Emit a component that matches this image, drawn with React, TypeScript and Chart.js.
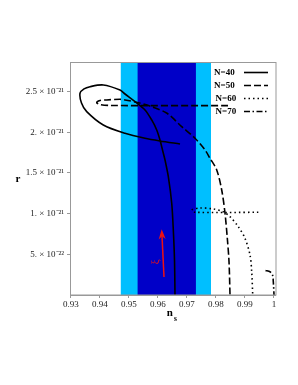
import React, { useEffect, useRef } from 'react';
import { Chart, registerables } from 'chart.js';

Chart.register(...registerables);

// ---------- data ----------
const xTickValues = [0.93, 0.94, 0.95, 0.96, 0.97, 0.98, 0.99, 1.0];
const xTickLabels = ['0.93', '0.94', '0.95', '0.96', '0.97', '0.98', '0.99', '1'];
// r values are stored in units of 1e-21
const yTickValues = [0.5, 1, 1.5, 2, 2.5];
const yTickLabels = ['5. × 10⁻²²', '1. × 10⁻²¹', '1.5 × 10⁻²¹', '2. × 10⁻²¹', '2.5 × 10⁻²¹'];
const xRange = [0.9297, 1.0006];
const yRange = [0, 2.862];

const lightBand = [0.9472, 0.9783];
const darkBand = [0.953, 0.9731];

const seriesNames = ['N=40', 'N=50', 'N=60', 'N=70'];

const n40Ns = [0.96762, 0.96072, 0.95555, 0.94866, 0.94118, 0.93546, 0.93366, 0.93315, 0.93453, 0.93659, 0.94118, 0.94694, 0.94866, 0.95211, 0.95555, 0.95786, 0.95959, 0.96072, 0.96159, 0.96245, 0.96359, 0.96476, 0.96531, 0.96572, 0.96589];
const n40R = [1.855, 1.892, 1.925, 1.986, 2.088, 2.252, 2.359, 2.478, 2.531, 2.559, 2.58, 2.518, 2.469, 2.375, 2.273, 2.15, 2.027, 1.904, 1.781, 1.658, 1.453, 1.127, 0.799, 0.43, 0];

const n50Ns = [0.98416, 0.94349, 0.94004, 0.9389, 0.94004, 0.94235, 0.94694, 0.94866, 0.95324, 0.95786, 0.96314, 0.9682, 0.97279, 0.97624, 0.97796, 0.98027, 0.98199, 0.98313, 0.98392, 0.98451, 0.98485];
const n50R = [2.326, 2.328, 2.34, 2.362, 2.389, 2.396, 2.404, 2.396, 2.362, 2.313, 2.232, 2.068, 1.925, 1.781, 1.679, 1.536, 1.29, 1.004, 0.697, 0.409, 0];

const n60Ns = [0.99461, 0.97279, 0.97165, 0.97451, 0.9791, 0.98254, 0.98485, 0.98771, 0.99002, 0.99175, 0.99233, 0.99268];
const n60R = [1.016, 1.016, 1.044, 1.069, 1.057, 1.023, 0.962, 0.839, 0.697, 0.491, 0.286, 0];

const n70Ns = [0.99709, 0.99864, 0.9995, 0.99978, 1.00002];
const n70R = [0.301, 0.285, 0.246, 0.16, 0];

const arrowFrom = [0.9621, 0.221];
const arrowTo = [0.9613, 0.807];
const xiLabelAt = [0.95935, 0.405];

// ---------- styles ----------
const SERIF = '"Liberation Serif", "Times New Roman", serif';
const dashes = [[], [7, 3], [1.5, 3], [6, 2.5, 1.5, 2.5]];

const toPoints = (xs: number[], ys: number[]) => xs.map((x, i) => ({ x, y: ys[i] }));

const seriesData = [
  toPoints(n40Ns, n40R),
  toPoints(n50Ns, n50R),
  toPoints(n60Ns, n60R),
  toPoints(n70Ns, n70R),
];

const decorPlugin = {
  id: 'decor',
  beforeDatasetsDraw(chart: any) {
    const { ctx, chartArea: a, scales } = chart;
    const xs = scales.x;
    ctx.save();
    ctx.fillStyle = '#00BFFF';
    const l0 = xs.getPixelForValue(lightBand[0]);
    const l1 = xs.getPixelForValue(lightBand[1]);
    ctx.fillRect(l0, a.top, l1 - l0, a.bottom - a.top);
    ctx.fillStyle = '#0000C8';
    const d0 = xs.getPixelForValue(darkBand[0]);
    const d1 = xs.getPixelForValue(darkBand[1]);
    ctx.fillRect(d0, a.top, d1 - d0, a.bottom - a.top);
    ctx.restore();
  },
  afterDatasetsDraw(chart: any) {
    const { ctx, chartArea: a, scales } = chart;
    const xs = scales.x;
    const ys = scales.y;
    ctx.save();
    // arrow
    const x0 = xs.getPixelForValue(arrowFrom[0]);
    const y0 = ys.getPixelForValue(arrowFrom[1]);
    const x1 = xs.getPixelForValue(arrowTo[0]);
    const y1 = ys.getPixelForValue(arrowTo[1]);
    const ang = Math.atan2(y1 - y0, x1 - x0);
    ctx.strokeStyle = '#EE1111';
    ctx.fillStyle = '#EE1111';
    ctx.lineWidth = 1.5;
    ctx.beginPath();
    ctx.moveTo(x0, y0);
    ctx.lineTo(x1 - Math.cos(ang) * 4, y1 - Math.sin(ang) * 4);
    ctx.stroke();
    const hl = 10;
    const hw = 3.5;
    const bx = x1 - Math.cos(ang) * hl;
    const by = y1 - Math.sin(ang) * hl;
    ctx.beginPath();
    ctx.moveTo(x1, y1);
    ctx.lineTo(bx + Math.sin(ang) * hw, by - Math.cos(ang) * hw);
    ctx.lineTo(bx + Math.cos(ang) * 3, by + Math.sin(ang) * 3);
    ctx.lineTo(bx - Math.sin(ang) * hw, by + Math.cos(ang) * hw);
    ctx.closePath();
    ctx.fill();
    // xi label
    const lx = xs.getPixelForValue(xiLabelAt[0]);
    const ly = ys.getPixelForValue(xiLabelAt[1]);
    ctx.translate(lx, ly);
    ctx.rotate(ang);
    ctx.font = `11px ${SERIF}`;
    ctx.textAlign = 'center';
    ctx.textBaseline = 'middle';
    ctx.fillText('ξ', 0, 0);
    ctx.restore();

    // frame
    ctx.save();
    ctx.strokeStyle = '#999';
    ctx.lineWidth = 1;
    ctx.strokeRect(Math.round(a.left) + 0.5, Math.round(a.top) + 0.5, Math.round(a.right - a.left) - 0.5, Math.round(a.bottom - a.top) - 0.5);
    ctx.restore();

    // legend
    ctx.save();
    const rows = [72.5, 85.5, 98.5, 111.5];
    ctx.font = `bold 9px ${SERIF}`;
    ctx.textBaseline = 'middle';
    ctx.textAlign = 'left';
    chart.data.datasets.forEach((ds: any, i: number) => {
      const y = rows[i];
      ctx.fillStyle = '#000';
      ctx.fillText(ds.label, i < 2 ? 214 : 215.5, y + 0.5);
      ctx.strokeStyle = '#000';
      ctx.lineWidth = ds.borderWidth;
      ctx.setLineDash(ds.borderDash || []);
      ctx.beginPath();
      ctx.moveTo(244, y);
      ctx.lineTo(268, y);
      ctx.stroke();
    });
    ctx.setLineDash([]);
    ctx.restore();

    // axis titles
    ctx.save();
    ctx.fillStyle = '#000';
    ctx.textAlign = 'center';
    ctx.textBaseline = 'middle';
    ctx.font = `bold 11px ${SERIF}`;
    ctx.fillText('r', 18, 179);
    const cx = (a.left + a.right) / 2;
    ctx.fillText('n', cx - 3, 313);
    ctx.font = `bold 7.5px ${SERIF}`;
    ctx.fillText('s', cx + 2.5, 319);
    ctx.restore();
  },
};

export default function App() {
  const ref = useRef<HTMLCanvasElement | null>(null);

  useEffect(() => {
    if (!ref.current) return;
    const chart = new Chart(ref.current, {
      type: 'scatter',
      data: {
        datasets: seriesData.map((pts, i) => ({
          label: seriesNames[i],
          data: pts,
          showLine: true,
          borderColor: '#000',
          backgroundColor: '#000',
          borderWidth: 1.6,
          borderDash: dashes[i],
          pointRadius: 0,
          tension: 0.3,
          fill: false,
        })),
      },
      options: {
        animation: false,
        responsive: false,
        devicePixelRatio: 1,
        layout: { padding: { left: 0, top: 62, right: 22.3, bottom: 0 } },
        plugins: {
          legend: { display: false },
          tooltip: { enabled: false },
          title: { display: false },
        },
        scales: {
          x: {
            type: 'linear',
            min: xRange[0],
            max: xRange[1],
            afterBuildTicks: (s: any) => {
              s.ticks = xTickValues.map((v) => ({ value: v }));
            },
            afterFit: (s: any) => {
              s.height = 90;
            },
            ticks: {
              autoSkip: false,
              maxRotation: 0,
              padding: 1,
              color: '#222',
              font: { family: SERIF, size: 9 },
              callback: (v: any) => {
                const i = xTickValues.findIndex((t) => Math.abs(t - v) < 1e-9);
                return i >= 0 ? xTickLabels[i] : '';
              },
            },
            grid: { drawOnChartArea: false, drawTicks: true, tickLength: 3, color: '#999' },
            border: { display: true, color: '#999' },
          },
          y: {
            type: 'linear',
            min: yRange[0],
            max: yRange[1],
            afterBuildTicks: (s: any) => {
              s.ticks = yTickValues.map((v) => ({ value: v }));
            },
            afterFit: (s: any) => {
              s.width = 70;
            },
            ticks: {
              autoSkip: false,
              padding: 3,
              color: '#222',
              font: { family: SERIF, size: 9 },
              callback: (v: any) => {
                const i = yTickValues.findIndex((t) => Math.abs(t - v) < 1e-9);
                return i >= 0 ? yTickLabels[i] : '';
              },
            },
            grid: { drawOnChartArea: false, drawTicks: true, tickLength: 3, color: '#999' },
            border: { display: true, color: '#999' },
          },
        },
      },
      plugins: [decorPlugin],
    });
    return () => chart.destroy();
  }, []);

  return (
    <div style={{ position: 'absolute', left: 0, top: 0, width: 298, height: 385, background: '#fff' }}>
      <canvas ref={ref} width={298} height={385} style={{ display: 'block', width: 298, height: 385 }} />
    </div>
  );
}
